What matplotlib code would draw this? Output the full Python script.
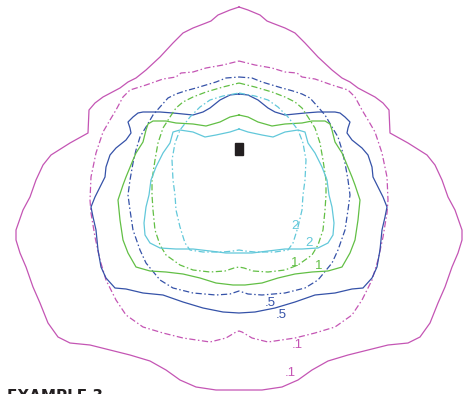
"""Isofootcandle plot, example 3: plan view of one fixture.

Each contour is symmetric about the fixture, so only the right half is kept
(x to the right of the fixture, y up from it) and mirrored when drawn.
"""

import numpy as np
import matplotlib.pyplot as plt

# right-half contour points, x from the fixture, y up from the fixture
fc01_solid_x = [0, 9, 21, 28, 33, 46, 56, 66, 79, 93, 103, 111, 119, 136, 144, 150, 151, 169, 188, 196,
                203, 209, 216, 223, 223, 219, 213, 206, 199, 191, 181, 169, 149, 129, 109, 89, 73, 59, 43, 23, 0]
fc01_solid_y = [143, 140, 135, 129, 127, 122, 117, 107, 93, 80, 72, 68, 62, 53, 47, 40, 17, 7, -5, -15,
                -30, -47, -60, -80, -90, -103, -117, -137, -153, -173, -187, -193, -195, -200, -205, -211, -220, -230, -237, -240, -240]

fc01_dash_x = [0, 16, 33, 46, 58, 63, 76, 93, 109, 116, 123, 129, 136, 143, 148, 149, 148, 144, 139, 133,
               123, 113, 96, 76, 56, 29, 13, 3, 0]
fc01_dash_y = [89, 85, 82, 78, 77, 73, 71, 65, 60, 53, 40, 30, 18, -3, -27, -50, -63, -87, -110, -130,
               -150, -165, -177, -183, -188, -192, -188, -182, -181]

fc05_solid_x = [0, 9, 19, 29, 36, 46, 56, 66, 79, 96, 101, 106, 111, 109, 108, 113, 123, 129, 133, 134, 139,
                144, 148, 146, 143, 141, 138, 133, 124, 113, 96, 76, 56, 36, 16, 0]
fc05_solid_y = [56, 55, 50, 42, 38, 35, 36, 37, 38, 38, 37, 33, 28, 22, 17, 10, 2, -5, -17, -27, -37,
                -47, -57, -67, -80, -100, -117, -128, -138, -139, -143, -145, -152, -158, -162, -163]

fc05_dash_x = [0, 13, 23, 33, 43, 54, 63, 71, 79, 86, 93, 99, 103, 106, 109, 111, 109, 106, 99, 93, 79,
               66, 46, 23, 9, 3, 0]
fc05_dash_y = [73, 72, 68, 65, 62, 59, 56, 52, 43, 35, 23, 13, 0, -13, -30, -45, -60, -80, -100, -113, -130,
               -138, -143, -145, -144, -142, -141]

fc1_solid_x = [0, 9, 19, 33, 46, 63, 73, 86, 91, 93, 96, 103, 106, 113, 116, 121, 119, 116, 111, 103,
               89, 73, 56, 39, 23, 6, 0]
fc1_solid_y = [35, 33, 28, 24, 26, 27, 29, 29, 26, 20, 8, -3, -10, -27, -35, -50, -70, -90, -103, -117,
               -121, -122, -124, -128, -133, -135, -135]

fc1_dash_x = [0, 16, 33, 46, 56, 63, 69, 76, 81, 84, 87, 87, 86, 84, 79, 73, 59, 46, 29, 14, 5, 0]
fc1_dash_y = [67, 63, 58, 53, 48, 42, 33, 22, 7, -10, -30, -45, -60, -80, -95, -105, -115, -120, -122, -121, -118, -117]

fc2_solid_x = [0, 9, 23, 34, 46, 59, 66, 69, 76, 83, 88, 90, 93, 95, 94, 89, 79, 63, 46, 29, 13, 0]
fc2_solid_y = [21, 18, 15, 13, 18, 20, 18, 7, -3, -17, -30, -45, -57, -73, -85, -93, -98, -99, -99, -101, -103, -103]

fc2_dash_x = [0, 16, 29, 39, 49, 59, 64, 67, 66, 64, 63, 59, 54, 49, 36, 16, 6, 0]
fc2_dash_y = [57, 54, 50, 43, 33, 20, 7, -10, -30, -45, -60, -77, -93, -100, -102, -102, -101, -100]

# label text and where it sits on its contour
label_text = ["2", "2", "1", "1", ".5", ".5", ".1", ".1"]
label_x = [56, 70, 56, 80, 31, 42, 58, 51]
label_y = [-76, -93, -113, -116, -153, -165, -195, -223]

magenta = "#c455b4"
blue = "#3552a8"
green = "#62bf45"
cyan = "#62c8da"
dash_dot = (0, (5, 2, 1.2, 2))

contours = [
    (fc01_solid_x, fc01_solid_y, magenta, "-"),
    (fc01_dash_x, fc01_dash_y, magenta, dash_dot),
    (fc05_solid_x, fc05_solid_y, blue, "-"),
    (fc05_dash_x, fc05_dash_y, blue, dash_dot),
    (fc1_solid_x, fc1_solid_y, green, "-"),
    (fc1_dash_x, fc1_dash_y, green, dash_dot),
    (fc2_solid_x, fc2_solid_y, cyan, "-"),
    (fc2_dash_x, fc2_dash_y, cyan, dash_dot),
]
label_colors = [cyan, cyan, green, green, blue, blue, magenta, magenta]


def mirrored(half_x, half_y):
    half_x = np.asarray(half_x, dtype=float)
    half_y = np.asarray(half_y, dtype=float)
    xs = np.concatenate([half_x, -half_x[::-1]])
    ys = np.concatenate([half_y, half_y[::-1]])
    return xs, ys


fig = plt.figure(figsize=(4.69, 3.94), dpi=100)
ax = fig.add_axes([0, 0, 1, 1])
ax.set_xlim(-239, 230)
ax.set_ylim(-244, 150)
ax.axis("off")

for half_x, half_y, color, style in contours:
    xs, ys = mirrored(half_x, half_y)
    ax.plot(xs, ys, color=color, linestyle=style, linewidth=0.9)

# fixture
ax.add_patch(plt.Rectangle((-3.7, -5), 7.4, 12, color="#231f20", zorder=5))

for text, x, y, color in zip(label_text, label_x, label_y, label_colors):
    ax.text(x, y, text, color=color, fontsize=9.5, ha="center", va="center",
            family="Liberation Sans")

fig.text(0.015, -0.025, "EXAMPLE 3", fontsize=11, fontweight="bold",
         color="#231f20", ha="left", va="bottom", family="Liberation Sans Narrow")

fig.savefig("out.png", dpi=100)
